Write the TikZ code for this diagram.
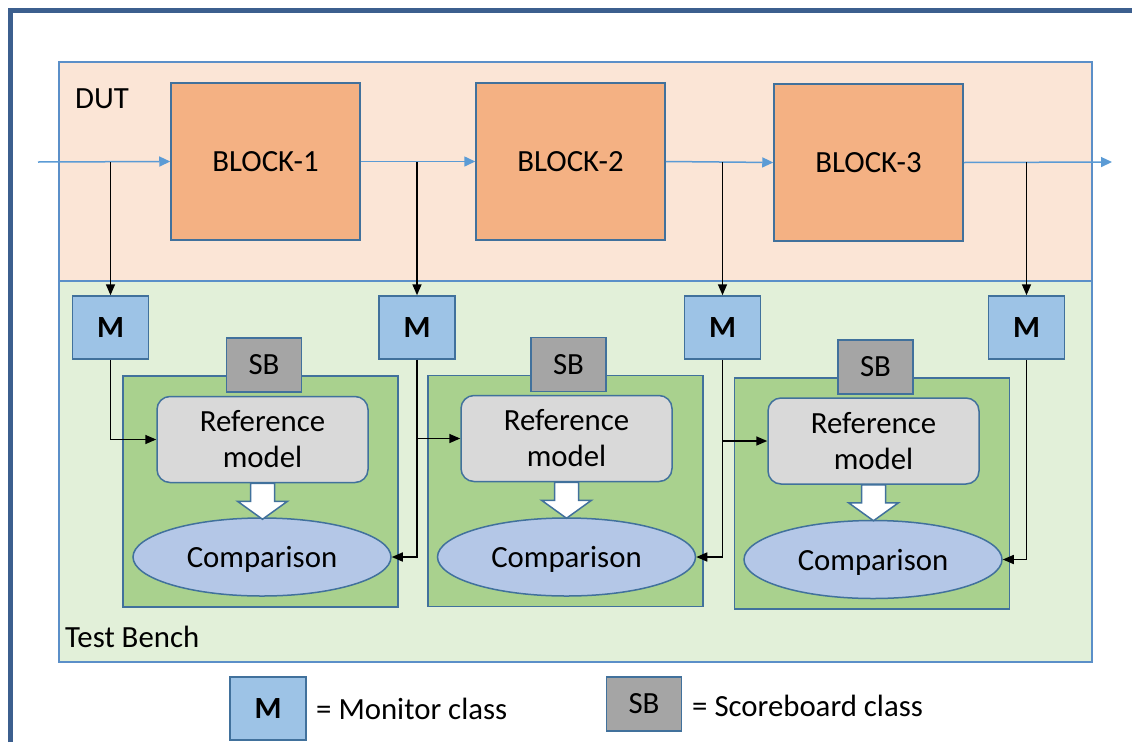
\documentclass[tikz,border=0pt]{standalone}
\usepackage{fontspec}
\setmainfont{Carlito}
\usetikzlibrary{shapes.geometric,arrows.meta}
\definecolor{frameblue}{HTML}{3C5F8E}
\definecolor{dutfill}{HTML}{FBE5D6}
\definecolor{tbfill}{HTML}{E2F0D9}
\definecolor{contborder}{HTML}{5B8FC8}
\definecolor{shapeborder}{HTML}{41719C}
\definecolor{blockfill}{HTML}{F4B183}
\definecolor{mfill}{HTML}{9DC3E6}
\definecolor{sbfill}{HTML}{A5A5A5}
\definecolor{sbgreen}{HTML}{A9D18E}
\definecolor{reffill}{HTML}{D9D9D9}
\definecolor{cmpfill}{HTML}{B4C7E7}
\definecolor{sigblue}{HTML}{5B9BD5}
\tikzset{
  every node/.style={font=\fontsize{30.8}{36}\selectfont, inner sep=0pt},
  container/.style={draw=contborder, line width=1.5pt, rectangle},
  blockbox/.style={draw=shapeborder, line width=1.5pt, fill=blockfill, minimum width=189pt, minimum height=157pt},
  mbox/.style={draw=shapeborder, line width=1.5pt, fill=mfill, minimum width=76pt, minimum height=63pt, font=\fontsize{30.8}{36}\selectfont\bfseries},
  sbbox/.style={draw=shapeborder, line width=1.5pt, fill=sbfill, minimum width=75pt, minimum height=54pt},
  greenbox/.style={draw=shapeborder, line width=1.5pt, fill=sbgreen, minimum width=275pt, minimum height=231pt},
  refbox/.style={draw=shapeborder, line width=1.5pt, fill=reffill, rounded corners=13pt, minimum width=211pt, minimum height=86pt, align=center},
  cmpbox/.style={draw=shapeborder, line width=1.5pt, fill=cmpfill, ellipse, minimum width=258pt, minimum height=78pt, text depth=0pt},
  sigline/.style={draw=sigblue, line width=1.5pt, -{Triangle[length=11pt,width=10pt]}},
  tapline/.style={draw=black, line width=1.6pt, -{Triangle[length=11pt,width=9pt]}},
  barrow/.style={draw=shapeborder, line width=1.5pt, fill=white, line join=miter},
  label/.style={anchor=west}
}
\begin{document}
\begin{tikzpicture}[x=1pt,y=-1pt]
\useasboundingbox (0,0) rectangle (1132,742);
\draw[line width=5pt, frameblue] (10.5,742) -- (10.5,10.5) -- (1132,10.5);

% containers
\node[container, fill=dutfill, minimum width=1033pt, minimum height=219pt] (dut) at (575.5,171.5) {};
\node[container, fill=tbfill, minimum width=1033pt, minimum height=381pt] (tb) at (575.5,471.5) {};
\node[label] (dutlabel) at (75,99) {DUT};
\node[label] (tblabel) at (65,637) {Test Bench};

% blocks
\node[blockbox] (b1) at (265.5,161.5) {BLOCK-1};
\node[blockbox] (b2) at (570.5,161.5) {BLOCK-2};
\node[blockbox] (b3) at (868.5,162.5) {BLOCK-3};

% monitors
\node[mbox] (m1) at (110.5,327.5) {M};
\node[mbox] (m2) at (417,327.5) {M};
\node[mbox] (m3) at (722.5,327.5) {M};
\node[mbox] (m4) at (1026.5,327.5) {M};

% scoreboards
\node[greenbox] (g1) at (260.5,491.5) {};
\node[greenbox] (g2) at (565.5,491) {};
\node[greenbox] (g3) at (872,493.5) {};
\node[sbbox] (sb1) at (264,365) {SB};
\node[sbbox] (sb2) at (568.5,364.5) {SB};
\node[sbbox] (sb3) at (875.5,367) {SB};
\node[refbox] (r1) at (262.5,439.5) {Reference\\model};
\node[refbox] (r2) at (566.5,438.5) {Reference\\model};
\node[refbox] (r3) at (873.5,441) {Reference\\model};
\node[cmpbox] (c1) at (262,557) {Comparison};
\node[cmpbox] (c2) at (566.5,557) {Comparison};
\node[cmpbox] (c3) at (873,559.5) {Comparison};

% white block arrows
\foreach \r/\c in {r1/c1, r2/c2, r3/c3}{
  \draw[barrow, shift={(\r.south)}] (-12,0) -- (12,0) -- (12,18) -- (25,18) -- (0,36) -- (-25,18) -- (-12,18) -- cycle;
}

% signal path
\coordinate (sigin) at (38,162);
\coordinate (sigout) at (1112,162);
\draw[sigline] (sigin) -- (b1.west);
\draw[sigline] (b1.east) -- (b2.west);
\draw[sigline] (b2.east) -- (b3.west);
\draw[sigline] (b3.east) -- (sigout);

% taps
\foreach \m in {m1,m2,m3,m4}{
  \draw[tapline] (\m.north |- sigin) -- (\m.north);
}

% monitor connections
\draw[tapline] (m1.south) |- (r1.west);
\draw[tapline] (m2.south) |- (r2.west);
\draw[tapline] (m2.south) |- (c1.east);
\draw[tapline] (m3.south) |- (r3.west);
\draw[tapline] (m3.south) |- (c2.east);
\draw[tapline] (m4.south) |- (c3.east);

% legend
\node[mbox] (lm) at (268,708.5) {M};
\node[label] (lmtext) at (316,709) {= Monitor class};
\node[sbbox] (lsb) at (644,704) {SB};
\node[label] (lsbtext) at (692,706) {= Scoreboard class};
\end{tikzpicture}
\end{document}
